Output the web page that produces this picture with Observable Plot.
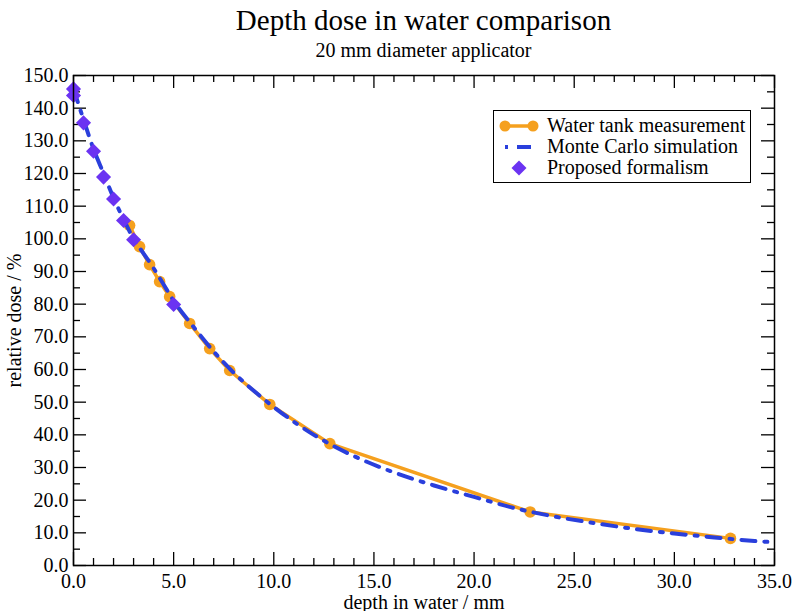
<!DOCTYPE html>
<html>
<head>
<meta charset="utf-8">
<script src="https://cdn.jsdelivr.net/npm/d3@7"></script>
<script src="https://cdn.jsdelivr.net/npm/@observablehq/plot@0.6"></script>
<style>
  html, body { margin: 0; padding: 0; background: #fff; }
  body { width: 793px; height: 611px; position: relative; overflow: hidden; font-family: "Liberation Serif", "DejaVu Serif", serif; color: #000; }
  #head { position: absolute; left: 73px; width: 701px; top: 0; height: 62px; text-align: center; }
  #title { font-size: 29px; position: absolute; left: 0; right: 0; top: 4px; line-height: 32px; }
  #subtitle { font-size: 20px; position: absolute; left: 0; right: 0; top: 39px; line-height: 22px; }
  #chart { position: absolute; left: 0; top: 62px; }
  #legend { position: absolute; left: 493px; top: 110px; width: 258px; height: 73px; border: 1.5px solid #000; background: #fff; box-sizing: border-box; padding-top: 4px; }
  .row { display: flex; align-items: center; height: 21px; font-size: 20px; white-space: nowrap; }
  .row svg { margin-left: 5px; margin-right: 8px; }
</style>
</head>
<body>
<div id="head"><div id="title">Depth dose in water comparison</div><div id="subtitle">20 mm diameter applicator</div></div>
<div id="chart"></div>
<div id="legend"></div>
<script>
// ---- data ----
const seriesNames = ["Water tank measurement", "Monte Carlo simulation", "Proposed formalism"];
const colors = ["#f5a01e", "#2a3fdc", "#6b33f2"];

const tankDepth = [2.8, 3.3, 3.8, 4.3, 4.8, 5.8, 6.8, 7.8, 9.8, 12.8, 22.8, 32.8];
const tankDose  = [104.1, 97.6, 92.1, 86.9, 82.3, 74.1, 66.4, 59.7, 49.3, 37.3, 16.4, 8.3];

const mcDepth = [0, 0.5, 1, 1.5, 2, 2.5, 3, 3.5, 4, 4.5, 5, 6, 7, 8, 9, 10, 11, 12, 13, 14, 16, 18, 20, 22, 24, 26, 28, 30, 32, 34, 35];
const mcDose  = [146, 136.5, 127.5, 120, 112.5, 106, 100, 95.5, 91, 86, 81, 73, 65.5, 59, 53.5, 48.5, 44, 40, 36.5, 33.5, 28.5, 24.5, 21, 17.6, 15, 13, 11.2, 9.8, 8.6, 7.5, 7.1];

const propDepth = [0, 0, 0.5, 1.0, 1.5, 2.0, 2.5, 3.0, 5.0];
const propDose  = [145.9, 143.9, 135.5, 126.8, 118.9, 112.2, 105.6, 99.7, 79.9];

const xMajor = [0, 5, 10, 15, 20, 25, 30, 35];
const xMinor = d3.range(0, 36, 1).filter(v => v % 5 !== 0);
const yMajor = d3.range(0, 151, 10);
const yMinor = d3.range(5, 150, 10);

// ---- tables ----
const tank = tankDepth.map((x, i) => ({x, y: tankDose[i]}));
const mc = mcDepth.map((x, i) => ({x, y: mcDose[i]}));
const prop = propDepth.map((x, i) => ({x, y: propDose[i]}));

const W = 793, H = 549, mT = 13, mB = 46, mL = 73, mR = 19;
const innerH = H - mT - mB, innerW = W - mL - mR;
const major = 13, minor = 7;

const chart = Plot.plot({
  width: W, height: H,
  marginTop: mT, marginBottom: mB, marginLeft: mL, marginRight: mR,
  style: {fontFamily: "'Liberation Serif', serif", fontSize: "20px", color: "#000", background: "#fff"},
  x: {domain: [0, 35], ticks: xMajor, tickSize: 0, tickPadding: 8, tickFormat: d => d.toFixed(1),
      label: "depth in water / mm", labelAnchor: "center", labelOffset: 43, labelArrow: "none"},
  y: {domain: [0, 150], ticks: yMajor, tickSize: 0, tickPadding: 5, tickFormat: d => d.toFixed(1),
      label: "relative dose / %", labelAnchor: "center", labelOffset: 67, labelArrow: "none"},
  marks: [
    // ticks (inward, on all four sides)
    Plot.tickX(xMajor, {x: d => d, insetTop: innerH - major, stroke: "#000", strokeWidth: 1.3}),
    Plot.tickX(xMinor, {x: d => d, insetTop: innerH - minor, stroke: "#000", strokeWidth: 1.3}),
    Plot.tickX(xMajor, {x: d => d, insetBottom: innerH - major, stroke: "#000", strokeWidth: 1.3}),
    Plot.tickX(xMinor, {x: d => d, insetBottom: innerH - minor, stroke: "#000", strokeWidth: 1.3}),
    Plot.tickY(yMajor, {y: d => d, insetRight: innerW - major, stroke: "#000", strokeWidth: 1.3}),
    Plot.tickY(yMinor, {y: d => d, insetRight: innerW - minor, stroke: "#000", strokeWidth: 1.3}),
    Plot.tickY(yMajor, {y: d => d, insetLeft: innerW - major, stroke: "#000", strokeWidth: 1.3}),
    Plot.tickY(yMinor, {y: d => d, insetLeft: innerW - minor, stroke: "#000", strokeWidth: 1.3}),
    // series
    Plot.line(tank, {x: "x", y: "y", stroke: colors[0], strokeWidth: 3.5}),
    Plot.dot(tank, {x: "x", y: "y", r: 5.8, fill: colors[0], stroke: "none"}),
    Plot.line(mc, {x: "x", y: "y", stroke: colors[1], strokeWidth: 4, strokeDasharray: "14,9,3,9", curve: "monotone-x"}),
    Plot.dot(prop, {x: "x", y: "y", symbol: "diamond2", r: 6.8, fill: colors[2], stroke: "none"}),
    Plot.frame({stroke: "#000", strokeWidth: 1.5})
  ]
});
document.getElementById("chart").appendChild(chart);

// legend
const legend = document.getElementById("legend");
const sw = [
  `<svg width="40" height="16"><line x1="6" y1="8" x2="34" y2="8" stroke="${colors[0]}" stroke-width="3.5"/><circle cx="6" cy="8" r="5.5" fill="${colors[0]}"/><circle cx="34" cy="8" r="5.5" fill="${colors[0]}"/></svg>`,
  `<svg width="40" height="16"><line x1="6" y1="8" x2="34" y2="8" stroke="${colors[1]}" stroke-width="4" stroke-dasharray="3,9,14,9"/></svg>`,
  `<svg width="40" height="16"><path d="M20,0.5L27.5,8L20,15.5L12.5,8Z" fill="${colors[2]}"/></svg>`
];
seriesNames.forEach((n, i) => {
  const r = document.createElement("div");
  r.className = "row";
  r.innerHTML = sw[i] + `<span>${n}</span>`;
  legend.appendChild(r);
});
</script>
</body>
</html>
